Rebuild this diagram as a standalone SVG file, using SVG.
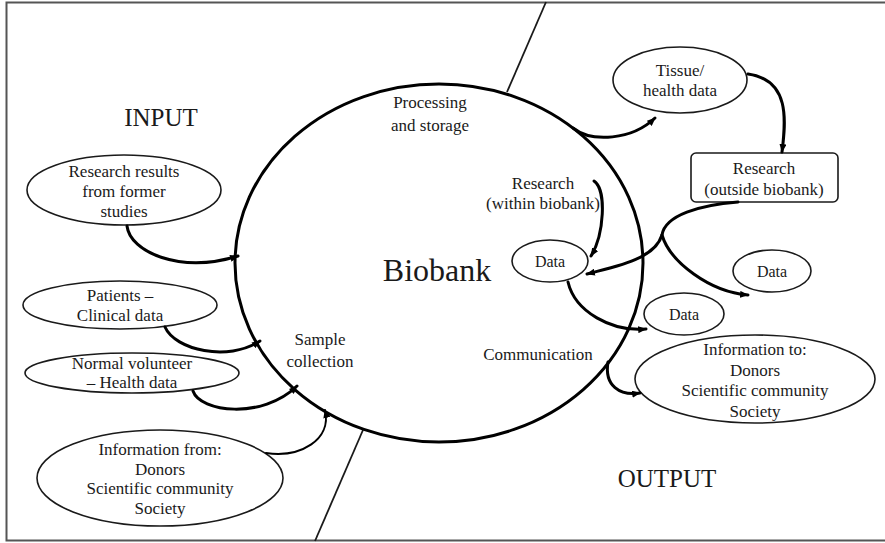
<svg xmlns="http://www.w3.org/2000/svg" width="885" height="543" viewBox="0 0 885 543" font-family="'Liberation Serif', 'Times New Roman', serif">
<defs>
<style>
text{font-family:'Liberation Serif','Times New Roman',serif}
.t{fill:#1a1a1a;text-anchor:middle}
.s17{font-size:17px}
.s16{font-size:16px}
.big{font-size:25px}
.node{fill:#fff;stroke:#1a1a1a;stroke-width:1.6}
.conn{fill:none;stroke:#000;stroke-width:3;stroke-linecap:round}
.thin{fill:none;stroke:#1a1a1a;stroke-width:1.8}
</style>
<marker id="ah" viewBox="0 0 10 8" refX="9" refY="4" markerWidth="9" markerHeight="7" markerUnits="userSpaceOnUse" orient="auto">
<path d="M0,0 L10,4 L0,8 Z" fill="#000"/>
</marker>
</defs>
<rect x="0" y="0" width="885" height="543" fill="#fff"/>
<rect x="6.5" y="2.5" width="880" height="538" fill="none" stroke="#555" stroke-width="2"/>

<g id="divider">
<line x1="546" y1="2" x2="507" y2="92" class="thin"/>
<line x1="363" y1="430" x2="315" y2="541" class="thin"/>
</g>

<g id="biobank">
<ellipse cx="439" cy="263" rx="204" ry="179" fill="none" stroke="#000" stroke-width="3"/>
<text class="t" x="437" y="281" font-size="32">Biobank</text>
<text class="t s17" x="430" y="108">Processing</text>
<text class="t s17" x="430" y="131">and storage</text>
<text class="t s17" x="320" y="345">Sample</text>
<text class="t s17" x="320" y="367">collection</text>
<text class="t s17" x="538" y="360">Communication</text>
<text class="t s17" x="543" y="189">Research</text>
<text class="t s17" x="543" y="209">(within biobank)</text>
</g>

<g id="labels">
<text class="t big" x="161" y="126">INPUT</text>
<text class="t big" x="667" y="487">OUTPUT</text>
</g>

<g id="research-results">
<ellipse class="node" cx="124" cy="190" rx="97" ry="35"/>
<text class="t s17" x="124" y="177">Research results</text>
<text class="t s17" x="124" y="197">from former</text>
<text class="t s17" x="124" y="217">studies</text>
</g>

<g id="patients">
<ellipse class="node" cx="120" cy="305" rx="97" ry="24"/>
<text class="t s17" x="120" y="301">Patients –</text>
<text class="t s17" x="120" y="321">Clinical data</text>
</g>

<g id="volunteer">
<ellipse class="node" cx="132" cy="373" rx="107" ry="20"/>
<text class="t s17" x="132" y="369">Normal volunteer</text>
<text class="t s17" x="132" y="388">– Health data</text>
</g>

<g id="info-from">
<ellipse class="node" cx="160" cy="478" rx="123" ry="48"/>
<text class="t s17" x="160" y="455">Information from:</text>
<text class="t s17" x="160" y="475">Donors</text>
<text class="t s17" x="160" y="494">Scientific community</text>
<text class="t s17" x="160" y="514">Society</text>
</g>

<g id="tissue">
<ellipse class="node" cx="680" cy="80" rx="67" ry="33"/>
<text class="t s17" x="680" y="76">Tissue/</text>
<text class="t s17" x="680" y="96">health data</text>
</g>

<g id="research-outside">
<rect class="node" x="691" y="153" width="147" height="49" rx="5"/>
<text class="t s17" x="764" y="174">Research</text>
<text class="t s17" x="764" y="195">(outside biobank)</text>
</g>

<g id="data-inside">
<ellipse class="node" cx="550" cy="261" rx="38" ry="21"/>
<text class="t s16" x="550" y="267">Data</text>
</g>

<g id="data-right">
<ellipse class="node" cx="772" cy="271" rx="39" ry="21"/>
<text class="t s16" x="772" y="277">Data</text>
</g>

<g id="data-lower">
<ellipse class="node" cx="684" cy="314" rx="40" ry="21"/>
<text class="t s16" x="684" y="320">Data</text>
</g>

<g id="info-to">
<ellipse class="node" cx="755" cy="379" rx="120" ry="44"/>
<text class="t s17" x="755" y="355">Information to:</text>
<text class="t s17" x="755" y="376">Donors</text>
<text class="t s17" x="755" y="396">Scientific community</text>
<text class="t s17" x="755" y="417">Society</text>
</g>

<g id="connectors">
<path class="conn" d="M127,226 C130,252 180,274 238,256" marker-end="url(#ah)"/>
<path class="conn" d="M165,327 C175,350 228,362 260,341" marker-end="url(#ah)"/>
<path class="conn" d="M193,391 C200,412 262,420 297,386" marker-end="url(#ah)"/>
<path class="conn" d="M266,453 C300,458 332,440 325,410" marker-end="url(#ah)" style="stroke-width:2"/>
<path class="conn" d="M573,128 C592,143 632,140 655,118" marker-end="url(#ah)"/>
<path class="conn" d="M748,74 C790,80 786,120 782,152" marker-end="url(#ah)"/>
<path class="conn" d="M738,202 C700,205 665,215 662,235 C655,258 620,266 587,274" marker-end="url(#ah)"/>
<path class="conn" d="M662,235 C670,262 710,292 748,295" marker-end="url(#ah)"/>
<path class="conn" d="M594,181 C607,190 604,235 591,256" marker-end="url(#ah)"/>
<path class="conn" d="M568,282 C575,312 612,332 646,329" marker-end="url(#ah)"/>
<path class="conn" d="M608,362 C604,386 620,396 640,393" marker-end="url(#ah)"/>
</g>
</svg>
